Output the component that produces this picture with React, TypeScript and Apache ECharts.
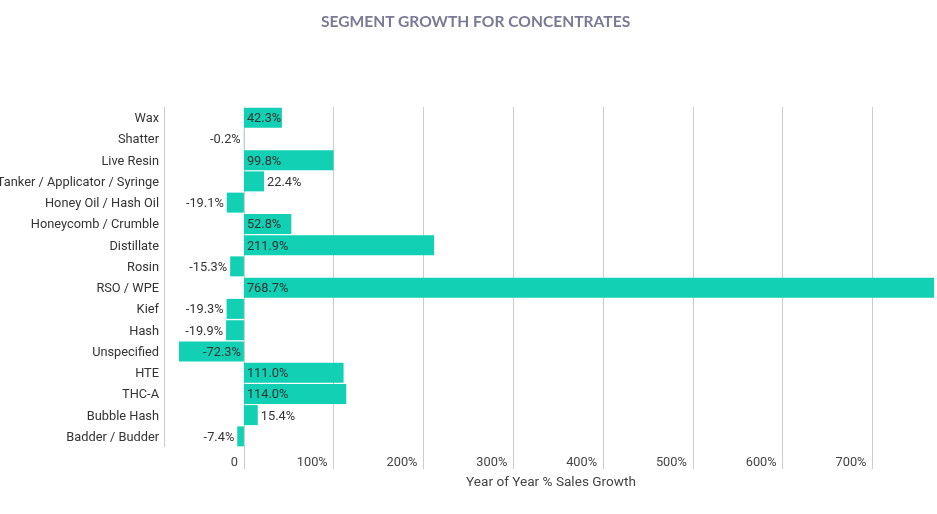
import React, { useEffect, useRef } from "react";
import * as echarts from "echarts";

const categories = [
  "Wax",
  "Shatter",
  "Live Resin",
  "Tanker / Applicator / Syringe",
  "Honey Oil / Hash Oil",
  "Honeycomb / Crumble",
  "Distillate",
  "Rosin",
  "RSO / WPE",
  "Kief",
  "Hash",
  "Unspecified",
  "HTE",
  "THC-A",
  "Bubble Hash",
  "Badder / Budder",
];

const growth = [
  42.3, -0.2, 99.8, 22.4, -19.1, 52.8, 211.9, -15.3, 768.7, -19.3, -19.9, -72.3,
  111.0, 114.0, 15.4, -7.4,
];

const title = "SEGMENT GROWTH FOR CONCENTRATES";
const axisName = "Year of Year % Sales Growth";

export default function App() {
  const ref = useRef<HTMLDivElement>(null);

  useEffect(() => {
    document.body.style.overflow = "hidden";
    document.documentElement.style.overflow = "hidden";
    if (!ref.current) return;
    const chart = echarts.init(ref.current, null, { renderer: "svg" });

    const data = growth.map((v) => {
      const inside = Math.abs(v) > 40;
      let position: string;
      if (v >= 0) position = inside ? "insideLeft" : "right";
      else position = inside ? "insideRight" : "left";
      return { value: v, label: { position } };
    });

    chart.setOption({
      animation: false,
      textStyle: { fontFamily: "Roboto" },
      title: {
        text: title,
        left: 316,
        top: 8,
        textStyle: {
          fontFamily: "Lato",
          fontWeight: "bold",
          fontSize: 15.6,
          color: "#7b7a96",
        },
      },
      grid: {
        left: 164,
        right: 2,
        top: 107,
        bottom: 67,
        containLabel: false,
        outerBoundsMode: "none",
      },
      xAxis: {
        type: "value",
        min: -89,
        max: 773,
        minInterval: 100,
        maxInterval: 100,
        name: axisName,
        nameLocation: "middle",
        nameGap: 27,
        nameTextStyle: { fontFamily: "Roboto", fontSize: 13.6, color: "#444" },
        axisLine: { show: false },
        axisTick: {
          show: true,
          length: 22,
          lineStyle: { color: "#cccccc", width: 1 },
        },
        splitLine: { show: true, lineStyle: { color: "#cccccc", width: 1 } },
        axisLabel: {
          showMinLabel: false,
          showMaxLabel: false,
          margin: 8,
          align: "right",
          padding: [0, 6, 0, 0],
          fontFamily: "Roboto",
          fontSize: 12.8,
          color: "#444",
          formatter: (v: number) => (v === 0 ? "0" : v + "%"),
        },
      },
      yAxis: {
        type: "category",
        data: categories,
        inverse: true,
        axisLine: { show: false, onZero: false },
        axisTick: { show: false },
        splitLine: { show: false },
        axisLabel: {
          margin: 5,
          fontFamily: "Roboto",
          fontSize: 12.8,
          color: "#333",
        },
      },
      series: [
        {
          type: "bar",
          data,
          barWidth: 20,
          itemStyle: { color: "#11d0b3" },
          label: {
            show: true,
            distance: 3,
            fontFamily: "Roboto",
            fontSize: 12.8,
            color: "#333",
            formatter: (p: any) => p.value.toFixed(1) + "%",
          },
        },
      ],
    });

    return () => chart.dispose();
  }, []);

  return (
    <div
      ref={ref}
      style={{ position: "fixed", left: 0, top: 0, width: 940, height: 514 }}
    />
  );
}
